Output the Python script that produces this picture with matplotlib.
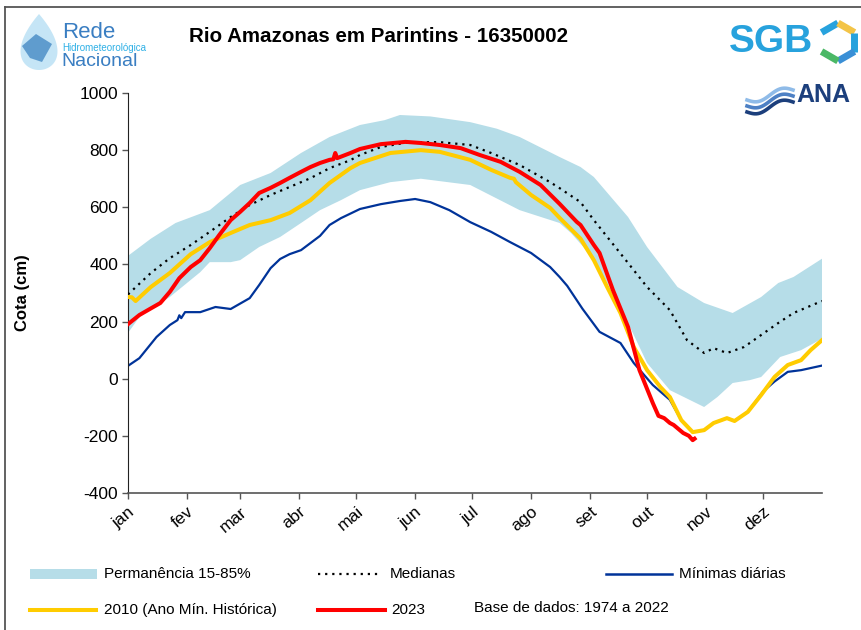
import matplotlib
matplotlib.use('Agg')
import matplotlib.pyplot as plt
import numpy as np
from matplotlib.patches import Polygon, Rectangle

plt.rcParams['font.family'] = ['Liberation Sans', 'DejaVu Sans']

# ---------------- data ----------------
months = ['jan', 'fev', 'mar', 'abr', 'mai', 'jun', 'jul', 'ago', 'set', 'out', 'nov', 'dez']
month_start_days = [1, 32, 60, 91, 121, 152, 182, 213, 244, 274, 305, 335]
y_ticks = [-400, -200, 0, 200, 400, 600, 800, 1000]

band_upper_days = [1, 13, 26, 44, 60, 76, 92, 107, 123, 136, 144, 160, 181, 195, 207, 228, 239, 246,
                   264, 274, 290, 304, 319, 334, 343, 351, 366]
band_upper_vals = [430, 490, 545, 590, 678, 720, 790, 846, 888, 905, 923, 918, 898, 875, 846, 776, 741, 706,
                   566, 461, 321, 265, 230, 286, 335, 356, 420]

band_lower_days = [1, 7, 23, 39, 44, 55, 60, 70, 81, 92, 102, 113, 123, 139, 155, 181, 207, 228, 234,
                   246, 256, 264, 274, 286, 304, 311, 319, 328, 334, 344, 355, 366]
band_lower_vals = [160, 216, 286, 373, 408, 408, 415, 461, 496, 545, 590, 625, 660, 688, 700, 678, 590, 545, 510,
                   420, 300, 195, 55, -40, -99, -64, -15, -5, 6, 76, 100, 140]

median_days = [1, 13, 23, 34, 44, 55, 65, 76, 86, 97, 107, 118, 123, 134, 149, 165, 181, 192, 207, 223,
               228, 239, 246, 264, 274, 286, 295, 304, 309, 316, 325, 334, 343, 351, 366]
median_vals = [295, 370, 422, 468, 514, 566, 608, 643, 671, 702, 737, 765, 783, 811, 828, 828, 818, 790, 748, 688,
               667, 618, 555, 405, 321, 240, 135, 90, 107, 90, 111, 153, 195, 230, 272]

minimas_days = [1, 7, 16, 23, 27, 28, 29, 31, 39, 47, 55, 65, 70, 76, 81, 86, 92, 97, 102, 107, 113, 123,
                134, 144, 152, 160, 170, 181, 192, 202, 213, 223, 228, 232, 240, 249, 260, 267, 277, 286,
                292, 298, 304, 309, 316, 320, 327, 335, 341, 348, 355, 366]
minimas_vals = [45, 72, 146, 188, 205, 222, 212, 233, 233, 251, 244, 282, 328, 387, 419, 436, 450, 475, 500, 538,
                562, 594, 611, 622, 629, 618, 590, 548, 514, 478, 440, 391, 356, 325, 245, 164, 125, 55, -22, -74,
                -145, -187, -180, -155, -138, -148, -116, -45, -10, 24, 30, 46]

y2010_days = [1, 3, 5, 13, 23, 34, 44, 55, 65, 76, 86, 97, 107, 118, 123, 139, 155, 165, 181, 192, 202,
              204, 205, 213, 223, 228, 239, 246, 253, 260, 267, 274, 281, 286, 292, 298, 304, 309, 316, 320,
              327, 334, 341, 348, 355, 360, 366]
y2010_vals = [286, 285, 272, 321, 370, 436, 478, 510, 538, 555, 580, 625, 685, 737, 755, 790, 800, 794, 766, 731, 703,
              700, 688, 643, 598, 563, 490, 415, 321, 230, 111, 30, -29, -64, -145, -187, -180, -155, -138, -148,
              -116, -57, 6, 48, 65, 100, 135]

y2023_days = [1, 7, 13, 18, 23, 28, 34, 39, 44, 49, 55, 60, 65, 70, 76, 81, 86, 92, 97, 102, 107, 109,
              110, 111, 118, 123, 134, 147, 155, 165, 176, 186, 197, 207, 218, 228, 237, 239, 246, 249, 256,
              264, 270, 277, 280, 283, 286, 288, 293, 296, 298, 299]
y2023_vals = [191, 223, 246, 265, 304, 352, 391, 415, 457, 503, 555, 584, 615, 650, 668, 685, 703, 724, 741, 755,
              766, 768, 790, 772, 790, 804, 821, 829, 825, 818, 807, 783, 759, 724, 678, 612, 549, 538, 468, 440,
              311, 181, 30, -85, -130, -138, -155, -162, -190, -200, -215, -210]

# ---------------- figure ----------------
W, H = 861, 630
fig = plt.figure(figsize=(W / 100, H / 100), dpi=100)

ax = fig.add_axes([128 / W, 1 - 493 / H, (822 - 128) / W, (493 - 93) / H])

ax.fill(np.concatenate([band_upper_days, band_lower_days[::-1]]),
        np.concatenate([band_upper_vals, band_lower_vals[::-1]]),
        color='#b6dde8', lw=0, zorder=1)
ax.plot(minimas_days, minimas_vals, color='#003399', lw=1.6, zorder=2)
ax.plot(median_days, median_vals, color='black', lw=1.6, linestyle=(0, (1, 2.2)), zorder=3)
ax.plot(y2010_days, y2010_vals, color='#ffcc00', lw=2.9, zorder=4, solid_joinstyle='round')
ax.plot(y2023_days, y2023_vals, color='#ff0000', lw=2.9, zorder=5, solid_joinstyle='round')

ax.set_xlim(1, 366)
ax.set_ylim(-400, 1000)
ax.set_yticks(y_ticks)
ax.set_yticklabels([str(v) for v in y_ticks], fontsize=12.5)
ax.set_xticks(month_start_days)
ax.set_xticklabels(months, fontsize=12.5, rotation=40, ha='right', va='top', rotation_mode='anchor')
ax.tick_params(axis='x', direction='out', length=4, width=1, color='#555555', pad=4)
ax.tick_params(axis='y', direction='out', length=4, width=1, color='#555555', pad=3)
for s in ['top', 'right']:
    ax.spines[s].set_visible(False)
ax.spines['left'].set_color('#222222')
ax.spines['bottom'].set_color('#555555')
ax.spines['bottom'].set_linewidth(1.2)
ax.set_ylabel('Cota (cm)', fontsize=12, fontweight='bold')
ax.yaxis.set_label_coords(-0.141, 0.5)

# ---------------- overlay (title, legend, logos, frame) ----------------
ov = fig.add_axes([0, 0, 1, 1], zorder=10)
ov.set_xlim(0, W)
ov.set_ylim(H, 0)
ov.axis('off')
ov.patch.set_visible(False)

# frame
ov.plot([5, W], [7, 7], color='#555555', lw=1.3)
ov.plot([5, 5], [7, H], color='#555555', lw=1.3)

ov.text(379, 37, 'Rio Amazonas em Parintins - 16350002', fontsize=14.8, fontweight='bold',
        ha='center', va='center')

# legend
fs_leg = 11
ov.add_patch(Rectangle((30, 569), 67, 10, color='#b6dde8', lw=0))
ov.text(104, 574, 'Permanência 15-85%', fontsize=fs_leg, va='center')
ov.plot([318, 380], [574, 574], color='black', lw=1.6, linestyle=(0, (1, 2.2)))
ov.text(390, 574, 'Medianas', fontsize=fs_leg, va='center')
ov.plot([606, 672], [574, 574], color='#003399', lw=1.8)
ov.text(679, 574, 'Mínimas diárias', fontsize=fs_leg, va='center')
ov.plot([30, 96], [610, 610], color='#ffcc00', lw=2.9)
ov.text(104, 610, '2010 (Ano Mín. Histórica)', fontsize=fs_leg, va='center')
ov.plot([318, 385], [610, 610], color='#ff0000', lw=2.9)
ov.text(391, 610, '2023', fontsize=fs_leg, va='center')
ov.text(474, 608, 'Base de dados: 1974 a 2022', fontsize=fs_leg, va='center')

# Rede Hidrometeorologica logo
t = np.linspace(0, 2 * np.pi, 120)
drop_x = 39 + 24 * np.sin(t) * np.sin(t / 2)
drop_y = 42 - 28 * np.cos(t)
ov.add_patch(Polygon(np.column_stack([drop_x, drop_y]), closed=True, facecolor='#bfe3f5',
                     edgecolor='none', alpha=0.9))
ov.add_patch(Polygon([[22, 46], [36, 34], [52, 44], [42, 62], [30, 58]], closed=True,
                     facecolor='#4d8fc8', edgecolor='none', alpha=0.85))
ov.text(62, 32, 'Rede', fontsize=16, color='#3a7ec2', va='center')
ov.text(62, 48, 'Hidrometeorológica', fontsize=7, color='#2eb0e6', va='center')
ov.text(61, 62, 'Nacional', fontsize=14, color='#3a7ec2', va='center')

# SGB logo
ov.text(729, 42, 'SGB', fontsize=28, fontweight='heavy', color='#27a2dd', va='center', ha='left')
ang = np.radians([150, 90, 30, -30, -90, -150, 150])
hx = 838 + 19 * np.cos(ang)
hy = 42 - 19 * np.sin(ang)
ov.plot(hx[0:2], hy[0:2], color='#27a2dd', lw=5, solid_capstyle='butt')
ov.plot(hx[1:3], hy[1:3], color='#f3c447', lw=5, solid_capstyle='butt')
ov.plot(hx[2:4], hy[2:4], color='#27a2dd', lw=5, solid_capstyle='butt')
ov.plot(hx[3:5], hy[3:5], color='#3a8fd6', lw=5, solid_capstyle='butt')
ov.plot(hx[4:6], hy[4:6], color='#4bb866', lw=5, solid_capstyle='butt')

# ANA logo
ov.text(796, 95, 'ANA', fontsize=18, fontweight='bold', color='#1c3f7c', va='center', ha='left')
wx = np.linspace(0, 1, 30)
for k, c in enumerate(['#8fbbe8', '#4d80c4', '#1c3f7c']):
    xs = 747 + 46 * wx
    ys = 100 + 6 * k - 10 * wx + 4 * np.sin(wx * 2 * np.pi)
    ov.plot(xs, ys, color=c, lw=2.6)

fig.savefig('out.png', dpi=100)
